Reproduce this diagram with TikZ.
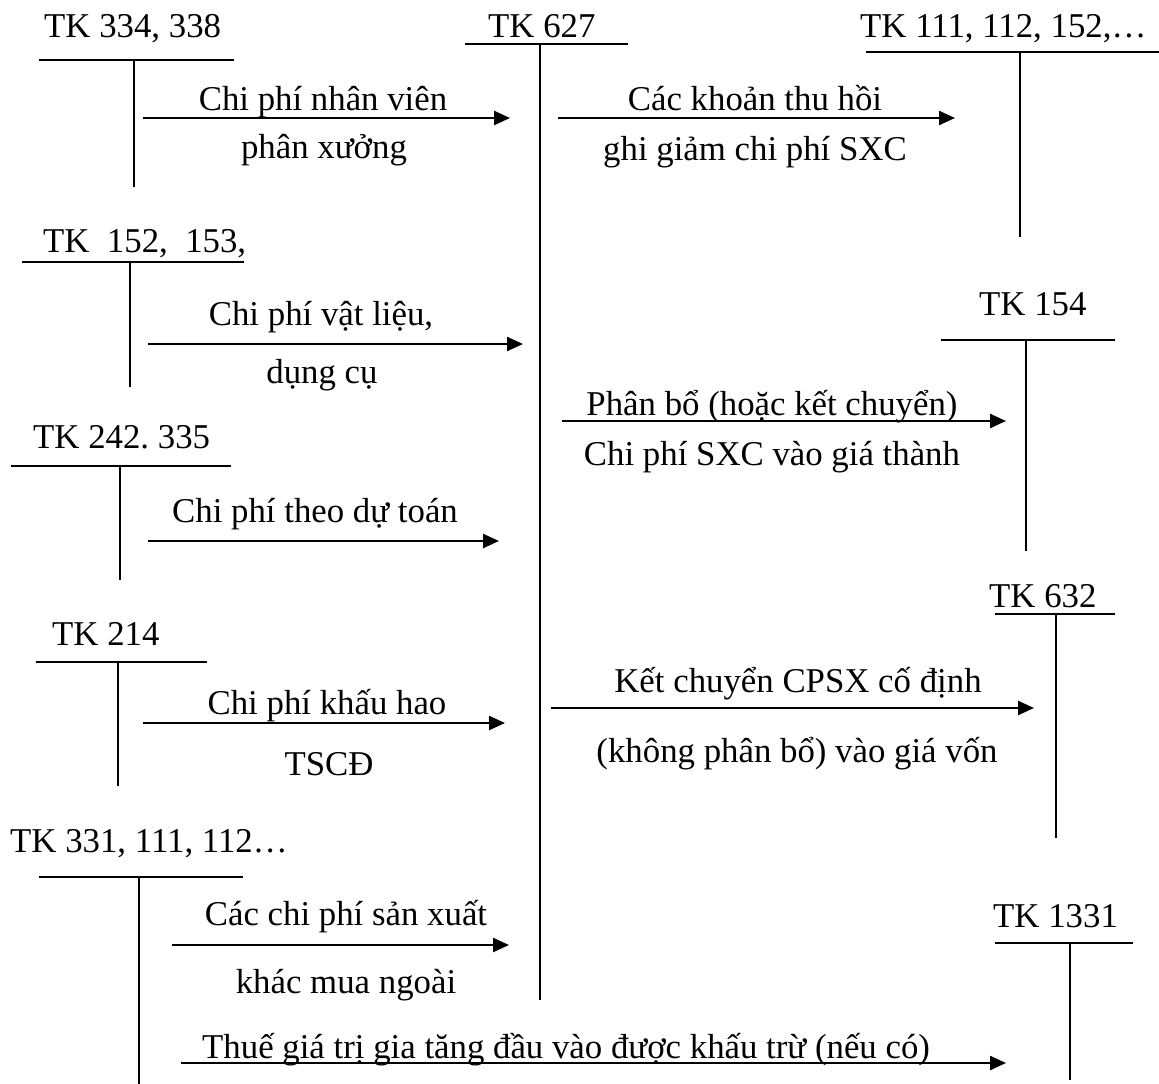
\documentclass[tikz,border=0pt]{standalone}
\usepackage{fontspec}
\setmainfont{Liberation Serif}
\usetikzlibrary{arrows.meta}
\frenchspacing
\begin{document}
\begin{tikzpicture}[x=1pt,y=-1pt,
  tline/.style={line width=1.6pt},
  flow/.style={line width=2.4pt,-{Triangle[length=16pt,width=14pt]}},
  txt/.style={inner sep=0pt,font=\fontsize{34.8}{41}\selectfont},
  acc/.style={txt,anchor=base west},
  lbl/.style={txt,anchor=base},
]
\useasboundingbox (0,0) rectangle (1159,1084);

% ---------- T-accounts: title, top rule, vertical stem ----------
% TK 334, 338
\node[acc] (a334) at (44,37) {TK 334, 338};
\coordinate (a334l) at (39,60);  \coordinate (a334r) at (234,60);
\coordinate (a334t) at (134,60); \coordinate (a334b) at (134,187);
\draw[tline] (a334l) -- (a334r); \draw[tline] (a334t) -- (a334b);

% TK 627
\node[acc] (a627) at (488,37) {TK 627};
\coordinate (a627l) at (465,44);  \coordinate (a627r) at (628,44);
\coordinate (a627t) at (540,44);  \coordinate (a627b) at (540,1000);
\draw[tline] (a627l) -- (a627r); \draw[tline] (a627t) -- (a627b);

% TK 111, 112, 152,...
\node[acc] (a111) at (860,37) {TK 111, 112, 152,…};
\coordinate (a111l) at (866,52);  \coordinate (a111r) at (1159,52);
\coordinate (a111t) at (1020,52); \coordinate (a111b) at (1020,237);
\draw[tline] (a111l) -- (a111r); \draw[tline] (a111t) -- (a111b);

% TK 152, 153
\node[acc] (a152) at (43,252) {TK~~152,~~153,};
\coordinate (a152l) at (22,262);  \coordinate (a152r) at (244,262);
\coordinate (a152t) at (130,262); \coordinate (a152b) at (130,387);
\draw[tline] (a152l) -- (a152r); \draw[tline] (a152t) -- (a152b);

% TK 154
\node[acc] (a154) at (979,315) {TK 154};
\coordinate (a154l) at (941,340);  \coordinate (a154r) at (1115,340);
\coordinate (a154t) at (1026,340); \coordinate (a154b) at (1026,551);
\draw[tline] (a154l) -- (a154r); \draw[tline] (a154t) -- (a154b);

% TK 242, 335
\node[acc] (a242) at (33,448) {TK 242. 335};
\coordinate (a242l) at (11,466);  \coordinate (a242r) at (231,466);
\coordinate (a242t) at (120,466); \coordinate (a242b) at (120,580);
\draw[tline] (a242l) -- (a242r); \draw[tline] (a242t) -- (a242b);

% TK 632
\node[acc] (a632) at (989,607) {TK 632};
\coordinate (a632l) at (995,614);  \coordinate (a632r) at (1115,614);
\coordinate (a632t) at (1056,614); \coordinate (a632b) at (1056,838);
\draw[tline] (a632l) -- (a632r); \draw[tline] (a632t) -- (a632b);

% TK 214
\node[acc] (a214) at (52,645) {TK 214};
\coordinate (a214l) at (36,662);  \coordinate (a214r) at (207,662);
\coordinate (a214t) at (118,662); \coordinate (a214b) at (118,786);
\draw[tline] (a214l) -- (a214r); \draw[tline] (a214t) -- (a214b);

% TK 331, 111, 112...
\node[acc] (a331) at (10,852) {TK 331, 111, 112…};
\coordinate (a331l) at (39,877);  \coordinate (a331r) at (243,877);
\coordinate (a331t) at (139,877); \coordinate (a331b) at (139,1084);
\draw[tline] (a331l) -- (a331r); \draw[tline] (a331t) -- (a331b);

% TK 1331
\node[acc] (a1331) at (993,927) {TK 1331};
\coordinate (a1331l) at (995,943);  \coordinate (a1331r) at (1133,943);
\coordinate (a1331t) at (1070,943); \coordinate (a1331b) at (1070,1080);
\draw[tline] (a1331l) -- (a1331r); \draw[tline] (a1331t) -- (a1331b);

% ---------- Entries ----------
% staff costs
\coordinate (f1s) at (143,118); \coordinate (f1e) at (510,118);
\draw[flow] (f1s) -- (f1e);
\node[lbl] (f1a) at (323,110) {Chi phí nhân viên};
\node[lbl] (f1b) at (324,158) {phân xưởng};

% recoveries
\coordinate (f2s) at (558,118); \coordinate (f2e) at (955,118);
\draw[flow] (f2s) -- (f2e);
\node[lbl] (f2a) at (755,110) {Các khoản thu hồi};
\node[lbl] (f2b) at (755,160) {ghi giảm chi phí SXC};

% materials and tools
\coordinate (f3s) at (148,344); \coordinate (f3e) at (523,344);
\draw[flow] (f3s) -- (f3e);
\node[lbl] (f3a) at (321,325) {Chi phí vật liệu,};
\node[lbl] (f3b) at (322,383) {dụng cụ};

% allocation to TK 154
\coordinate (f4s) at (562,421); \coordinate (f4e) at (1006,421);
\draw[flow] (f4s) -- (f4e);
\node[lbl] (f4a) at (772,415) {Phân bổ (hoặc kết chuyển)};
\node[lbl] (f4b) at (772,465) {Chi phí SXC vào giá thành};

% budgeted costs
\coordinate (f5s) at (148,541); \coordinate (f5e) at (499,541);
\draw[flow] (f5s) -- (f5e);
\node[lbl] (f5a) at (315,522) {Chi phí theo dự toán};

% depreciation
\coordinate (f6s) at (143,723); \coordinate (f6e) at (505,723);
\draw[flow] (f6s) -- (f6e);
\node[lbl] (f6a) at (327,714) {Chi phí khấu hao};
\node[lbl] (f6b) at (329,775) {TSCĐ};

% unallocated fixed costs to TK 632
\coordinate (f7s) at (551,708); \coordinate (f7e) at (1034,708);
\draw[flow] (f7s) -- (f7e);
\node[lbl] (f7a) at (798,692) {Kết chuyển CPSX cố định};
\node[lbl] (f7b) at (797,762) {(không phân bổ) vào giá vốn};

% other purchased costs
\coordinate (f8s) at (172,945); \coordinate (f8e) at (509,945);
\draw[flow] (f8s) -- (f8e);
\node[lbl] (f8a) at (346,925) {Các chi phí sản xuất};
\node[lbl] (f8b) at (346,993) {khác mua ngoài};

% deductible input VAT
\coordinate (f9s) at (181,1063); \coordinate (f9e) at (1006,1063);
\draw[flow] (f9s) -- (f9e);
\node[acc] (f9a) at (202,1058) {Thuế giá trị gia tăng đầu vào được khấu trừ (nếu có)};
\end{tikzpicture}
\end{document}
